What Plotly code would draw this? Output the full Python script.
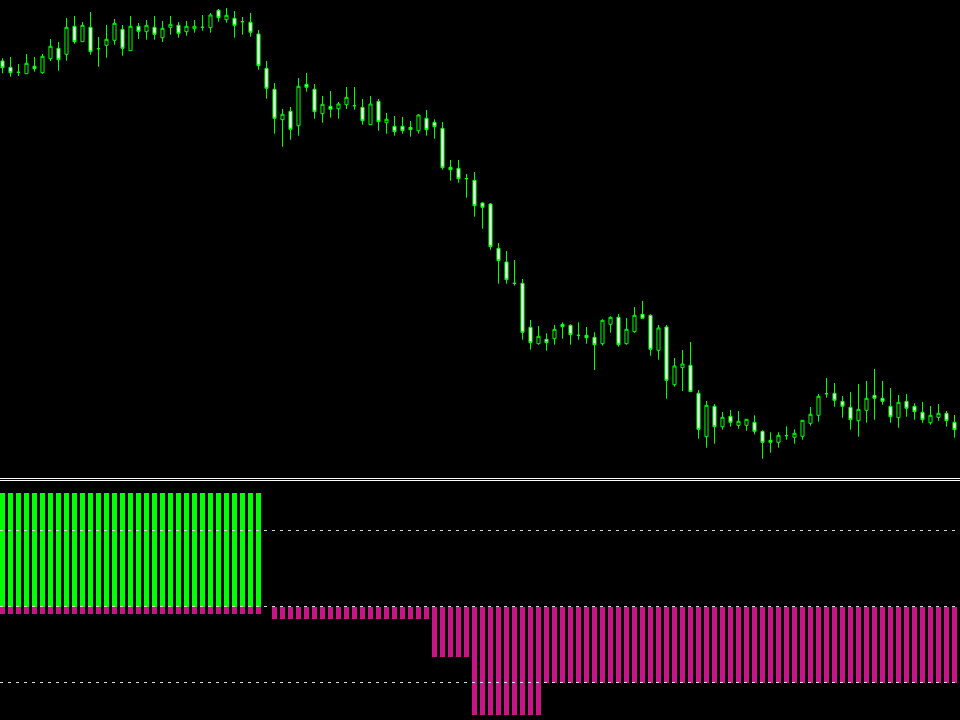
import plotly.graph_objects as go

# ---- price candles (index 0..119) ----
opens = [439, 432.7, 427.7, 426.3, 433.7, 427.3, 441.3, 451.7, 445.7, 473.7,
         458.3, 472.7, 451.3, 454.7, 459.7, 470.7, 449.3, 473.7, 468.3, 472.7,
         462.3, 472.7, 474.7, 468.3, 471.3, 472.7, 472.3, 489.7, 480.3, 481.7,
         478.3, 477.7, 466, 431.7, 410.7, 380.3, 388.7, 374.3, 415.7, 410.7,
         386.3, 393.7, 391.3, 395.3, 394.3, 392.7, 375.3, 398.7, 377.3, 373.7,
         373.7, 372.7, 369.3, 381.7, 377.7, 371.7, 332.7, 331.7, 321.3, 319.7,
         297, 296, 251.7, 238, 216.7, 216.7, 172.7, 156.3, 160.7, 161.3,
         175.7, 174.7, 164.7, 164.7, 162.7, 156.3, 175.7, 182.7, 156.3, 168.3,
         185.7, 184.7, 149.7, 173, 115.3, 132.3, 134.7, 106.7, 63.3, 93.7,
         73.3, 83.7, 74.7, 74.7, 77.7, 68.7, 59.7, 57.7, 64.3, 62.7,
         63.7, 76.7, 84.7, 106.3, 106.7, 98.7, 92.7, 79.3, 89.7, 104.7,
         101.7, 93.7, 82.3, 98.7, 93.7, 87.7, 77.3, 82.7, 86.7, 77.7]
highs = [441.7, 443, 436, 446, 443, 446, 461, 458, 482, 484,
         478, 488, 463, 475, 481, 475, 484, 477, 480, 484,
         479, 484, 478, 479, 480, 485, 487, 491, 492, 489,
         483, 487, 470, 439, 417, 391, 393, 422, 427, 416,
         404, 409, 398, 413, 413, 401, 404, 401, 387, 384,
         383, 379, 386, 390, 380.7, 378, 340, 340, 326, 328,
         298, 297, 257, 249, 240, 221, 180, 174, 166.7, 175,
         177.7, 175.7, 177.7, 173, 167.7, 180.7, 183.7, 186, 182, 193,
         199, 185.7, 175, 175, 142, 150, 158, 110, 99, 96,
         88, 90, 89, 80.7, 84.7, 69.7, 67.7, 67.7, 73.7, 70.7,
         79.7, 93, 106, 122, 117, 104, 108, 116, 119, 131,
         119, 112, 105, 106, 96.7, 98, 94, 96, 89, 85]
lows = [426.7, 423.3, 424, 426.3, 428.3, 426.3, 439, 429.3, 439.3, 456.3,
        458.3, 445.3, 433.3, 442.3, 455.3, 444.3, 449.3, 461, 460.3, 460.3,
        458, 465.3, 462.3, 464.3, 467.3, 469.3, 467.3, 478.3, 477.3, 462.3,
        465.3, 463.3, 430.3, 401.3, 366.3, 353.3, 360.3, 364.3, 408.3, 381.3,
        377.3, 382.3, 381.3, 391, 390.3, 375.3, 375.3, 369.3, 366.3, 364.3,
        366.3, 363.3, 366.3, 364.3, 361.3, 330.3, 319.3, 317.3, 302.3, 283.3,
        271.3, 250.3, 216.3, 216.3, 214.3, 160.3, 150.3, 155.3, 149.3, 155.3,
        161.3, 155.3, 160.3, 156.3, 130, 154.3, 167.3, 153.3, 155.3, 167.3,
        181.7, 144.3, 140.3, 101.3, 113.3, 109, 108.3, 61.3, 52.3, 56.3,
        70.3, 73.3, 71.3, 69.3, 65.7, 41.3, 47.3, 52.3, 60.3, 56.3,
        60.3, 74.3, 78.3, 102.3, 93.3, 82.3, 70.3, 63.3, 77.3, 80.3,
        95.3, 77.3, 72.3, 83.3, 80.3, 77.3, 75.3, 79.3, 73.3, 62.3]
closes = [432.3, 427.3, 427.7, 436.7, 431.3, 443.7, 453.7, 440.3, 472.7, 458.3,
          474.7, 448.3, 451.3, 460.7, 476.7, 451.7, 473.7, 468.7, 474.7, 465.7,
          471.7, 475.7, 466.7, 473.7, 473.7, 472.7, 485, 482.3, 484.7, 474.7,
          478.3, 467.7, 434.3, 411.7, 381.7, 385.7, 370.7, 413.7, 412.7, 388.3,
          395.7, 390.7, 396, 402.7, 394.3, 379.3, 396, 378.3, 380.7, 368.3,
          369.3, 370.3, 385, 370.3, 373.3, 332.3, 330.3, 321.3, 321.3, 294.3,
          292.7, 253.3, 239.3, 220.3, 216.7, 167.7, 157.3, 163.7, 157.3, 170.7,
          173.3, 165.3, 164.7, 162.3, 155.3, 179.7, 182.7, 155.3, 170.7, 184.7,
          181.7, 150.7, 172, 119.7, 134, 136, 108.3, 70.7, 94.7, 73.3,
          82.7, 77.7, 78.7, 80.7, 68.7, 57.7, 57.7, 64.7, 64.3, 66.7,
          79.7, 85.7, 103.7, 106.3, 99.7, 93.7, 80.3, 90.7, 101.7, 101.7,
          98.7, 83.3, 97.7, 91.7, 88.3, 80.3, 84.7, 86.7, 79.3, 70.3]

# ---- indicator histogram buffers ----
up_vals = [1.49] * 33 + [0.0] * 87
dn_vals = ([-0.092] * 33 + [0.0] + [-0.158] * 20 + [-0.658] * 5
           + [-1.434] * 9 + [-1.0] * 52)
levels = [1.0, 0.0, -1.0]

x = list(range(len(opens)))

fig = go.Figure()
fig.add_trace(go.Candlestick(
    x=x, open=opens, high=highs, low=lows, close=closes,
    increasing=dict(line=dict(color="#00ff00", width=1), fillcolor="#000000"),
    decreasing=dict(line=dict(color="#00ff00", width=1), fillcolor="#ffffff"),
    whiskerwidth=0, xaxis="x", yaxis="y", showlegend=False, hoverinfo="skip",
))
fig.add_trace(go.Bar(x=x, y=dn_vals, width=0.625, marker=dict(color="#c71585", line=dict(width=0)),
                     xaxis="x2", yaxis="y2", showlegend=False))
fig.add_trace(go.Bar(x=x, y=up_vals, width=0.625, marker=dict(color="#00ff00", line=dict(width=0)),
                     xaxis="x2", yaxis="y2", showlegend=False))

xr = [-0.3125, 119.6875]
H = 720.0
top_dom = [(H - 477) / H, 1.0]
bot_dom = [0.0, (H - 481) / H]
half_px = 0.5 / 76.0

for lv in levels:
    fig.add_shape(type="line", xref="x2", yref="y2", x0=xr[0], x1=xr[1], y0=lv, y1=lv,
                  line=dict(color="#d8d8d8", width=1, dash="3px,5px"), layer="above")
for py in (478.5, 480.5):
    fig.add_shape(type="line", xref="paper", yref="paper", x0=0, x1=1,
                  y0=(H - py) / H, y1=(H - py) / H,
                  line=dict(color="#ffffff", width=1))

fig.update_layout(
    width=960, height=720,
    margin=dict(l=0, r=0, t=0, b=0),
    paper_bgcolor="#000000", plot_bgcolor="#000000",
    barmode="overlay", bargap=0, boxgap=0.45,
    xaxis=dict(domain=[0, 1], range=xr, visible=False, rangeslider=dict(visible=False), fixedrange=True),
    yaxis=dict(domain=top_dom, range=[23, 500], visible=False),
    xaxis2=dict(domain=[0, 1], range=xr, visible=False, anchor="y2"),
    yaxis2=dict(domain=bot_dom, range=[-1.5 + half_px, 1.645 + half_px], visible=False, anchor="x2"),
    showlegend=False,
)

fig.write_html("out.html", config={"displayModeBar": False},
               post_script="document.body.style.margin='0';document.body.style.padding='0';"
                           "document.body.style.background='#000';")
